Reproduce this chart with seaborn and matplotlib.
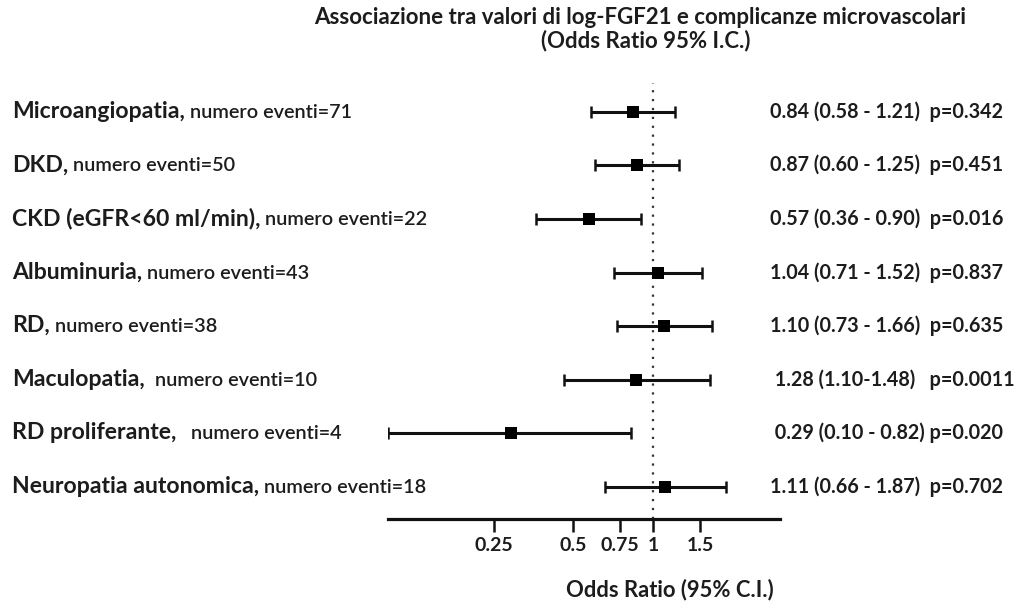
import numpy as np
import pandas as pd
import matplotlib
matplotlib.use("Agg")
import matplotlib.pyplot as plt
import matplotlib.ticker as mticker
import seaborn as sns

# ---------------- data ----------------
outcomes = ["Microangiopatia,", "DKD,", "CKD (eGFR<60 ml/min),", "Albuminuria,",
            "RD,", "Maculopatia,", "RD proliferante,", "Neuropatia autonomica,"]
events_text = [" numero eventi=71", " numero eventi=50", " numero eventi=22",
               " numero eventi=43", " numero eventi=38", "  numero eventi=10",
               "   numero eventi=4", " numero eventi=18"]
odds_ratio = [0.84, 0.87, 0.57, 1.04, 1.10, 0.86, 0.29, 1.11]
ci_low = [0.58, 0.60, 0.36, 0.71, 0.73, 0.46, 0.10, 0.66]
ci_high = [1.21, 1.25, 0.90, 1.52, 1.66, 1.64, 0.82, 1.87]
result_text = ["0.84 (0.58 - 1.21)  p=0.342", "0.87 (0.60 - 1.25)  p=0.451",
               "0.57 (0.36 - 0.90)  p=0.016", "1.04 (0.71 - 1.52)  p=0.837",
               "1.10 (0.73 - 1.66)  p=0.635", " 1.28 (1.10-1.48)   p=0.0011",
               " 0.29 (0.10 - 0.82) p=0.020", "1.11 (0.66 - 1.87)  p=0.702"]
x_ticks = [0.25, 0.5, 0.75, 1, 1.5]
x_tick_labels = ["0.25", "0.5", "0.75", "1", "1.5"]
title_lines = ["Associazione tra valori di log-FGF21 e complicanze microvascolari",
               "(Odds Ratio 95% I.C.)"]
x_label = "Odds Ratio (95% C.I.)"

df = pd.DataFrame({"outcome": outcomes, "OR": odds_ratio, "lo": ci_low,
                   "hi": ci_high, "row": np.arange(len(outcomes))})

# ---------------- style ----------------
sns.set_theme(style="white")
plt.rcParams["font.family"] = ["Lato", "DejaVu Sans"]
TXT = "#1c1c1c"

W, H = 1017, 603
fig = plt.figure(figsize=(W / 100, H / 100), dpi=100)
ax = fig.add_axes([388 / W, 1 - 519 / H, (780 - 388) / W, (519 - 83) / H])

ax.errorbar(df["OR"], df["row"],
            xerr=[df["OR"] - df["lo"], df["hi"] - df["OR"]],
            fmt="none", ecolor="#111111", elinewidth=2.2, capsize=4,
            capthick=1.8, zorder=2)
sns.scatterplot(data=df, x="OR", y="row", marker="s", s=80, color="black",
                edgecolor="black", linewidth=0, ax=ax, zorder=3, legend=False)
ax.axvline(1, color="#333333", lw=1.6, ls=(0, (1, 3)), zorder=1)

ax.set_xscale("log")
ax.set_xlim(0.1, 3.0)
ax.set_ylim(7.6, -0.54)
ax.xaxis.set_major_locator(mticker.FixedLocator(x_ticks))
ax.xaxis.set_minor_locator(mticker.NullLocator())
ax.set_xticklabels(x_tick_labels, fontsize=14, fontweight="bold", color=TXT)
ax.set_yticks([])
ax.set_xlabel("")
ax.set_ylabel("")
for s in ["left", "top", "right"]:
    ax.spines[s].set_visible(False)
ax.spines["bottom"].set_linewidth(2.3)
ax.spines["bottom"].set_color("#111111")
ax.tick_params(axis="x", direction="out", length=9, width=1.8, color="#111111",
               pad=4, bottom=True)
ax.patch.set_alpha(0)

# titles
fig.text(640 / W, 1 - 18 / H, title_lines[0], ha="center", va="center",
         fontsize=16, fontweight="bold", color=TXT)
fig.text(646 / W, 1 - 41 / H, title_lines[1], ha="center", va="center",
         fontsize=16, fontweight="bold", color=TXT)
fig.text(670 / W, 1 - 590 / H, x_label, ha="center", va="center",
         fontsize=15.8, fontweight="bold", color=TXT)

# left labels (bold name + normal count)
name_texts = []
for i, name in enumerate(outcomes):
    t = ax.annotate(name, xy=(12, i), xycoords=("figure pixels", "data"),
                    xytext=(0, -6), textcoords="offset pixels", va="baseline",
                    ha="left", fontsize=16.6, fontweight="bold", color=TXT,
                    annotation_clip=False)
    name_texts.append(t)
fig.canvas.draw()
renderer = fig.canvas.get_renderer()
for i, (t, ev) in enumerate(zip(name_texts, events_text)):
    bb = t.get_window_extent(renderer)
    ax.annotate(ev, xy=(bb.x1, i), xycoords=("figure pixels", "data"),
                xytext=(0, -6), textcoords="offset pixels", va="baseline",
                ha="left", fontsize=14.3, fontweight="semibold", color=TXT,
                annotation_clip=False)

# right labels
for i, r in enumerate(result_text):
    ax.annotate(r, xy=(770, i), xycoords=("figure pixels", "data"),
                xytext=(0, -6), textcoords="offset pixels", va="baseline",
                ha="left", fontsize=14.2, fontweight="bold", color=TXT,
                annotation_clip=False)

fig.savefig("out.png", dpi=100, facecolor="white")
